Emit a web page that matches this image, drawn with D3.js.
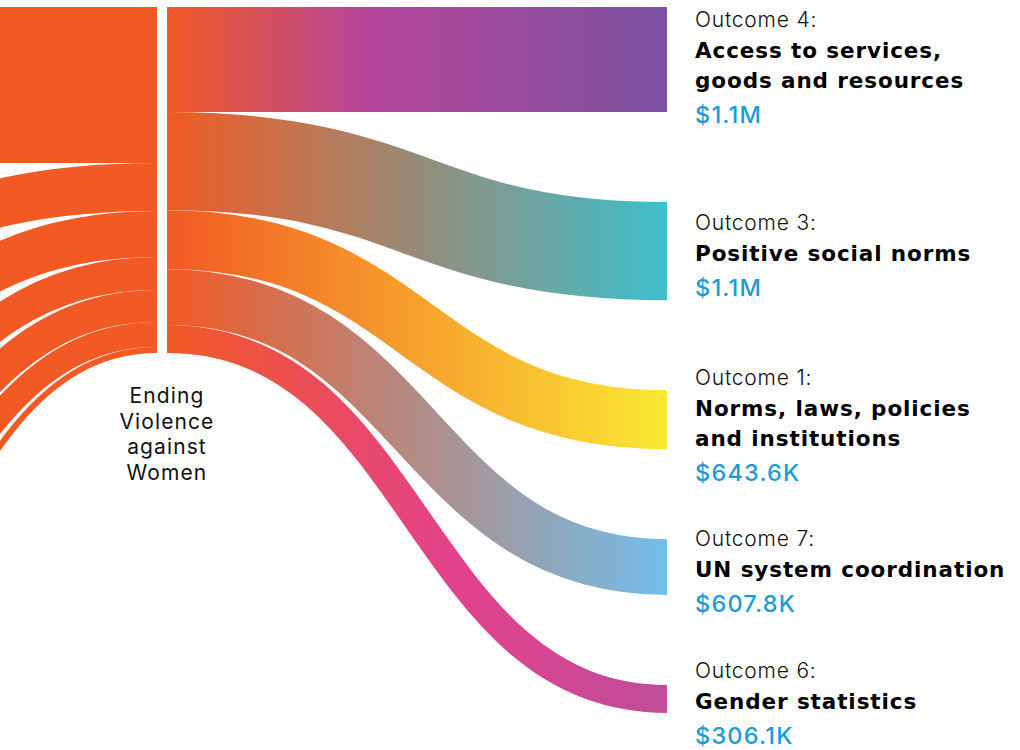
<!DOCTYPE html>
<html>
<head>
<meta charset="utf-8">
<script src="https://cdn.jsdelivr.net/npm/d3@7"></script>
<style>
  body { margin: 0; background: #fff; }
  svg { display: block; }
</style>
</head>
<body>
<svg id="chart" width="1020" height="750"></svg>
<script>
// Funding flows into the EVAW programme (left column) and out to outcomes (right column)
const hubLabel = ["Ending", "Violence", "against", "Women"];

// incoming contributions, top to bottom
const sourceValues = [1701000, 523000, 502000, 360000, 349000, 273000, 65500];

// outcomes, top to bottom
const outcomeNames = ["Outcome 4:", "Outcome 3:", "Outcome 1:", "Outcome 7:", "Outcome 6:"];
const outcomeTitles = [
  ["Access to services,", "goods and resources"],
  ["Positive social norms"],
  ["Norms, laws, policies", "and institutions"],
  ["UN system coordination"],
  ["Gender statistics"]
];
const outcomeValues = [1146000, 1070000, 643600, 607800, 306100];

// palette
const sourceColor = "#F15A24";
const outcomeColors = ["#7B52A1", "#3DBFCC", "#FBE834", "#72BEEA", "#BF4D9B"];
const outcomeMidColors = [["#B5459A", 0.4], null, null, null, ["#E3418B", 0.57]];

const lightFont = "Inter, 'Noto Sans', sans-serif";
const boldFont = "'DejaVu Sans', Verdana, sans-serif";

const svg = d3.select("#chart");
const extentTop = 7, extentBottom = 713;
const nodeWidth = 10, nodePadding = 90;

// three evenly spaced columns: contributors, programme, outcomes
const columnX = d3.scalePoint().domain([0, 1, 2]).range([-353, 667]);
const total = d3.sum(outcomeValues);
const ky = d3.scaleLinear()
  .domain([0, total])
  .range([0, (extentBottom - extentTop) - (outcomeValues.length - 1) * nodePadding]);

const hubX0 = columnX(1), hubX1 = hubX0 + nodeWidth;
const hubY1 = extentTop + ky(total);

// incoming links
let srcY = extentTop, hubY = extentTop;
const inLinks = sourceValues.map(v => {
  const w = ky(v);
  const l = { x0: columnX(0) + nodeWidth, y0: srcY + w / 2, x1: hubX0, y1: hubY + w / 2, width: w };
  srcY += w + nodePadding;
  hubY += w;
  return l;
});

// outgoing links
let tgtY = extentTop; hubY = extentTop;
const outNodes = [];
const outLinks = outcomeValues.map((v, i) => {
  const w = ky(v);
  const l = { x0: hubX1, y0: hubY + w / 2, x1: columnX(2), y1: tgtY + w / 2, width: w, i };
  outNodes.push({ y0: tgtY, y1: tgtY + w, i });
  tgtY += w + nodePadding;
  hubY += w;
  return l;
});

const linkPath = d3.linkHorizontal()
  .source(d => [d.x0, d.y0])
  .target(d => [d.x1, d.y1]);

// gradients for outgoing links
const defs = svg.append("defs");
outLinks.forEach(l => {
  const g = defs.append("linearGradient")
    .attr("id", "grad" + l.i)
    .attr("gradientUnits", "userSpaceOnUse")
    .attr("x1", l.x0).attr("x2", l.x1)
    .attr("y1", 0).attr("y2", 0);
  g.append("stop").attr("offset", 0).attr("stop-color", sourceColor);
  const mid = outcomeMidColors[l.i];
  if (mid) g.append("stop").attr("offset", mid[1]).attr("stop-color", mid[0]);
  g.append("stop").attr("offset", 1).attr("stop-color", outcomeColors[l.i]);
});

svg.append("g")
  .attr("fill", "none")
  .selectAll("path")
  .data(inLinks)
  .join("path")
  .attr("d", linkPath)
  .attr("stroke", sourceColor)
  .attr("stroke-width", d => d.width);

svg.append("g")
  .attr("fill", "none")
  .selectAll("path")
  .data(outLinks)
  .join("path")
  .attr("d", linkPath)
  .attr("stroke", d => `url(#grad${d.i})`)
  .attr("stroke-width", d => d.width);

// programme label under the hub
svg.append("text")
  .attr("x", hubX1)
  .attr("y", hubY1 + 50)
  .attr("text-anchor", "middle")
  .attr("font-family", lightFont)
  .attr("font-size", 21)
  .attr("letter-spacing", 1.1)
  .attr("fill", "#111")
  .selectAll("tspan")
  .data(hubLabel)
  .join("tspan")
  .attr("x", hubX1)
  .attr("dy", (d, i) => i === 0 ? 0 : 25.5)
  .text(d => d);

// outcome labels
const fmt = v => v >= 1e6 ? "$" + (v / 1e6).toFixed(1) + "M" : "$" + (v / 1e3).toFixed(1) + "K";
const labelX = columnX(2) + nodeWidth + 18;

outNodes.forEach(n => {
  const titles = outcomeTitles[n.i];
  const center = (n.y0 + n.y1) / 2;
  const base = Math.max(center - 21 - 14 * (titles.length - 1), extentTop + 20);
  const g = svg.append("g");
  g.append("text")
    .attr("x", labelX).attr("y", base)
    .attr("font-family", lightFont)
    .attr("font-size", 21).attr("font-weight", 300)
    .attr("letter-spacing", 0.8).attr("fill", "#111")
    .text(outcomeNames[n.i]);
  titles.forEach((t, k) => {
    g.append("text")
      .attr("x", labelX).attr("y", base + 31 + 30 * k)
      .attr("font-family", boldFont)
      .attr("font-size", 21.5).attr("font-weight", 700)
      .attr("letter-spacing", 0.9).attr("fill", "#000")
      .text(t);
  });
  g.append("text")
    .attr("x", labelX).attr("y", base + 31 + 30 * (titles.length - 1) + 35)
    .attr("font-family", lightFont)
    .attr("font-size", 23.5).attr("font-weight", 500)
    .attr("letter-spacing", 1.2).attr("fill", "#1B9BD7")
    .text(fmt(outcomeValues[n.i]));
});
</script>
</body>
</html>
